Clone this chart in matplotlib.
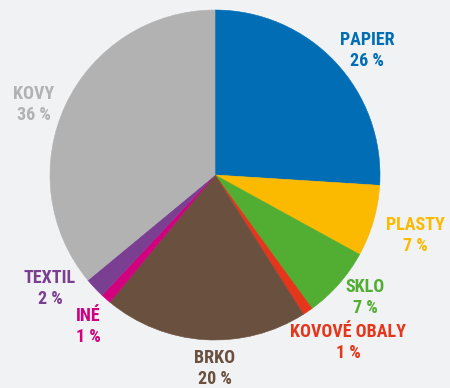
import matplotlib
matplotlib.use("Agg")
import matplotlib.pyplot as plt

# waste composition shares (%)
labels = ["PAPIER", "PLASTY", "SKLO", "KOVOVÉ OBALY", "BRKO", "INÉ", "TEXTIL", "KOVY"]
shares = [26, 7, 7, 1, 20, 1, 2, 36]
colors = ["#006db5", "#fbb900", "#52ae32", "#e5361b", "#6a503e", "#d2007f", "#7b3f91", "#b2b2b2"]

BG = "#f1f2f4"
W, H = 450, 388

# label anchor points in pixel space (x, y of first line, measured from top)
label_xy = [(367, 40), (415, 225), (365, 287), (348, 332),
            (215, 358), (88, 316), (50, 278), (34, 94)]
LINE_GAP = 21

fig = plt.figure(figsize=(W / 100, H / 100), dpi=100)
fig.patch.set_facecolor(BG)
ax = fig.add_axes([0, 0, 1, 1])
ax.set_facecolor(BG)

cx, cy, r = 215, H - 175, 165
wedges, _ = ax.pie(shares, colors=colors, startangle=90, counterclock=False,
                   center=(cx, cy), radius=r, frame=True,
                   wedgeprops=dict(linewidth=0.4, antialiased=True))
for w, c in zip(wedges, colors):
    w.set_edgecolor(c)
ax.set_xlim(0, W)
ax.set_ylim(0, H)
ax.set_aspect("equal")
ax.axis("off")

font = ["Roboto Condensed", "DejaVu Sans Condensed", "Liberation Sans Narrow", "Roboto", "DejaVu Sans"]
for name, val, col, (x, y) in zip(labels, shares, colors, label_xy):
    ax.text(x, H - y, name, ha="center", va="center", fontsize=13,
            fontweight="bold", color=col, family=font)
    ax.text(x, H - y - LINE_GAP, f"{val} %", ha="center", va="center", fontsize=13,
            fontweight="bold", color=col, family=font)

fig.savefig("out.png", dpi=100, facecolor=BG)
